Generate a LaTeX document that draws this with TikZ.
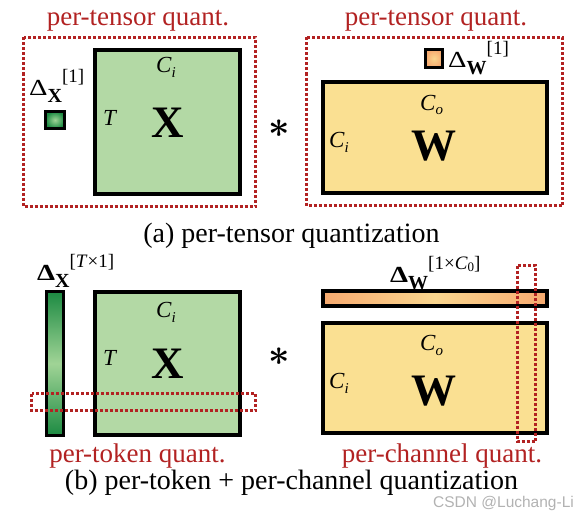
\documentclass[tikz,border=0pt]{standalone}
\usepackage{fontspec}
\setmainfont{Liberation Serif}
\newfontfamily\wmfont{Liberation Sans}
\definecolor{xgreen}{RGB}{179,217,165}
\definecolor{wyellow}{RGB}{250,224,146}
\definecolor{qred}{RGB}{178,34,34}
\definecolor{gdark}{RGB}{28,138,66}
\definecolor{glight}{RGB}{160,212,150}
\definecolor{odark}{RGB}{247,170,112}
\definecolor{olight}{RGB}{250,214,142}
\newcommand{\lowidx}[1]{\raisebox{-5pt}{\fontsize{15}{15}\selectfont\itshape #1}}
\newcommand{\dsub}[1]{\raisebox{-7pt}{\fontsize{20}{20}\selectfont\bfseries #1}}
\newcommand{\dsup}[1]{\raisebox{13pt}{\fontsize{19}{19}\selectfont #1}}
\tikzset{
  mat/.style={draw=black, line width=3.5pt},
  scl/.style={draw=black, line width=3pt},
  quant/.style={draw=qred, line width=2.6pt, dash pattern=on 3pt off 2pt},
  qtext/.style={text=qred, inner sep=0pt, anchor=base, font=\fontsize{27}{27}\selectfont},
  captext/.style={inner sep=0pt, anchor=base, font=\fontsize{28}{28}\selectfont},
  dimtext/.style={inner sep=0pt, anchor=base west, font=\fontsize{23}{23}\selectfont\itshape},
  bigtext/.style={inner sep=0pt, anchor=base, font=\fontsize{45}{45}\selectfont\bfseries},
  deltatext/.style={inner sep=0pt, anchor=base west, font=\fontsize{23}{23}\selectfont},
  startext/.style={inner sep=0pt, font=\fontsize{20}{20}\selectfont\boldmath},
}
\begin{document}
\begin{tikzpicture}[x=1pt, y=-1pt]
	\useasboundingbox (0,0) rectangle (586,519);
	% (a) per-tensor
	\node[qtext] (qxa) at (138,26) {per-tensor quant.};
	\node[qtext] (qwa) at (436,26) {per-tensor quant.};
	\draw [mat, fill=xgreen] (95,50) rectangle (240,194);
	\draw [scl, inner color=glight, outer color=gdark] (45.5,111.5) rectangle (64.5,128.5);
	\node[deltatext] (dxa) at (29,95) {\scalebox{1.25}[1]{Δ}\dsub{X}\dsup{[1]}};
	\node[dimtext] (cia) at (156,73) {C\lowidx{i}};
	\node[dimtext] (ta) at (103,125) {T};
	\node[bigtext] (xa) at (167.5,137) {X};
	\node[startext] (sa) at (279,129) {\scalebox{1.8}{$\ast$}};
	\draw [mat, fill=wyellow] (323,82) rectangle (547,193);
	\draw [scl, inner color=olight, outer color=odark] (425.5,49.5) rectangle (442.5,67.5);
	\node[deltatext] (dwa) at (448,67) {\scalebox{1.25}[1]{Δ}\dsub{W}\dsup{[1]}};
	\node[dimtext] (coa) at (420,110) {C\lowidx{o}};
	\node[dimtext] (ciwa) at (329,147) {C\lowidx{i}};
	\node[bigtext] (wa) at (433.5,160) {W};
	\draw [quant] (23.5,37.5) rectangle (255.5,206.5);
	\draw [quant] (306.5,37.5) rectangle (562.5,205.5);
	\node[captext] (capa) at (291.5,242) {(a) per-tensor quantization};
	% (b) per-token + per-channel
	\draw [scl, top color=gdark, bottom color=gdark, middle color=glight] (46.5,291.5) rectangle (63.5,435.5);
	\draw [mat, fill=xgreen] (95,292) rectangle (240,435);
	\node[deltatext] (dxb) at (37,280) {\bfseries\scalebox{1.25}[1]{Δ}\dsub{X}\dsup{\mdseries[\textit{T}×1]}};
	\node[dimtext] (cib) at (156,317) {C\lowidx{i}};
	\node[dimtext] (tb) at (103,365) {T};
	\node[bigtext] (xb) at (167.5,378) {X};
	\node[startext] (sb) at (279,357) {\scalebox{1.8}{$\ast$}};
	\draw [mat, left color=odark, right color=odark, middle color=olight] (323,291) rectangle (547,306);
	\draw [mat, fill=wyellow] (323,323) rectangle (547,433);
	\node[deltatext] (dwb) at (390,282) {\bfseries\scalebox{1.25}[1]{Δ}\dsub{W}\dsup{\mdseries[1×\textit{C}\raisebox{-2pt}{\fontsize{13}{13}\selectfont 0}]}};
	\node[dimtext] (cob) at (420,350) {C\lowidx{o}};
	\node[dimtext] (ciwb) at (329,388) {C\lowidx{i}};
	\node[bigtext] (wb) at (433.5,405) {W};
	\draw [quant] (31.5,393.5) rectangle (255.5,410.5);
	\draw [quant] (517.5,265.5) rectangle (535.5,441.5);
	\node[qtext] (qxb) at (137.5,462) {per-token quant.};
	\node[qtext] (qwb) at (442,462) {per-channel quant.};
	\node[captext] (capb) at (291.5,489) {(b) per-token + per-channel quantization};
	\node[inner sep=0pt, anchor=base west, text=black!30, font=\wmfont\fontsize{15.5}{15.5}\selectfont] (mark) at (433,507) {CSDN @Luchang-Li};
\end{tikzpicture}
\end{document}
